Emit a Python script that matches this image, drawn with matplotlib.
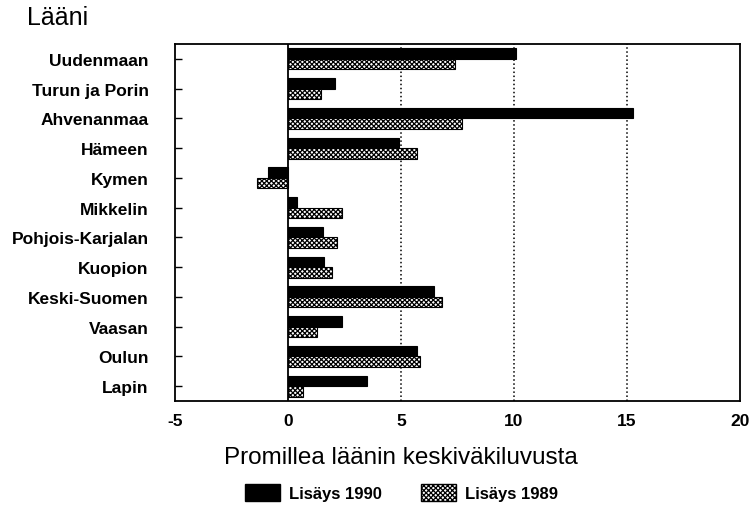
import matplotlib.pyplot as plt
import matplotlib.patches as mpatches
import numpy as np

plt.rcParams['font.family'] = ['Liberation Sans', 'DejaVu Sans']
plt.rcParams['hatch.linewidth'] = 0.9

# Läänit ylhäältä alas
laanit = ["Uudenmaan", "Turun ja Porin", "Ahvenanmaa", "Hämeen", "Kymen",
          "Mikkelin", "Pohjois-Karjalan", "Kuopion", "Keski-Suomen",
          "Vaasan", "Oulun", "Lapin"]
lisays_1990 = [10.1, 2.1, 15.25, 4.9, -0.9, 0.4, 1.55, 1.6, 6.45, 2.4, 5.7, 3.5]
lisays_1989 = [7.4, 1.45, 7.7, 5.7, -1.35, 2.4, 2.15, 1.95, 6.8, 1.3, 5.85, 0.65]
x_ticks = [-5, 0, 5, 10, 15, 20]

fig = plt.figure(figsize=(7.49, 5.10), dpi=100)
ax = fig.add_axes([0.2336, 0.2118, 0.7544, 0.70])

y = np.arange(len(laanit))
h = 0.35
ax.barh(y - h / 2, lisays_1990, height=h, color='black', edgecolor='black',
        linewidth=0.8, zorder=3)
ax.barh(y + h / 2, lisays_1989, height=h, color='white', edgecolor='black',
        hatch='xxxxxxx', linewidth=0.8, zorder=3)

# katkoviivat ja nollaviiva
for gx in [5, 10, 15]:
    ax.axvline(gx, color='black', linestyle=':', linewidth=1.1, zorder=1)
ax.axvline(0, color='black', linewidth=1.3, zorder=4)

ax.set_xlim(-5, 20)
ax.set_ylim(len(laanit) - 0.5, -0.5)
ax.set_yticks(y)
ax.set_yticklabels(laanit, fontsize=12.5, fontweight='bold')
ax.set_xticks(x_ticks)
ax.set_xticklabels([str(t) for t in x_ticks], fontsize=12.5, fontweight='bold')
ax.tick_params(axis='y', direction='in', length=5, width=1, pad=19)
ax.tick_params(axis='x', length=0, pad=9)
for s in ax.spines.values():
    s.set_linewidth(1.3)

ax.set_xlabel("Promillea läänin keskiväkiluvusta", fontsize=17.5, labelpad=9)
ax.xaxis.set_label_coords(0.40, -0.125)
fig.text(0.036, 0.965, "Lääni", fontsize=18, ha='left', va='center')

handles = [
    mpatches.Patch(facecolor='black', edgecolor='black', label='Lisäys 1990'),
    mpatches.Patch(facecolor='white', edgecolor='black', hatch='xxxxxxx',
                   label='Lisäys 1989'),
]
leg = fig.legend(handles=handles, loc='center', bbox_to_anchor=(0.536, 0.032),
                 ncol=2, frameon=False, prop={'size': 12, 'weight': 'bold'},
                 handlelength=2.1, handleheight=1.2, columnspacing=2.4,
                 handletextpad=0.5)

fig.savefig("out.png", dpi=100)
